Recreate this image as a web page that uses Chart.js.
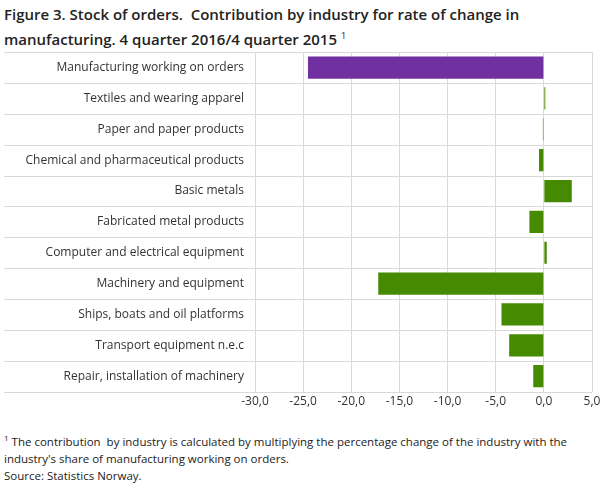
<!DOCTYPE html>
<html><head><meta charset="utf-8">
<script src="https://cdn.jsdelivr.net/npm/chart.js@4/dist/chart.umd.min.js"></script>
<style>
body{margin:0;background:#fff;font-family:"Open Sans",sans-serif;color:#222}
#title{position:absolute;left:4px;top:4px;font-size:15px;line-height:21px;font-weight:600;color:#222}
#title sup{font-size:9px;font-weight:400}
#wrap{position:absolute;left:0;top:42px;width:609px;height:370px}
#notes{position:absolute;left:4px;top:429px;font-size:11.5px;line-height:17px;color:#222;width:600px}
#notes sup{font-size:8px}
</style></head><body>
<div id="title">Figure 3. Stock of orders.&nbsp; Contribution by industry for rate of change in<br>manufacturing. 4 quarter 2016/4 quarter 2015 <sup>1</sup></div>
<div id="wrap"><canvas id="c" width="609" height="370"></canvas></div>
<div id="notes"><sup>1</sup> The contribution&nbsp; by industry is calculated by multiplying the percentage change of the industry with the industry's share of manufacturing working on orders.<br>Source: Statistics Norway.</div>
<script>
const categories = ['Manufacturing working on orders','Textiles and wearing apparel','Paper and paper products','Chemical and pharmaceutical products','Basic metals','Fabricated metal products','Computer and electrical equipment','Machinery and equipment','Ships, boats and oil platforms','Transport equipment n.e.c','Repair, installation of machinery'];
const values = [-24.5, 0.15, -0.1, -0.5, 2.9, -1.5, 0.3, -17.2, -4.4, -3.6, -1.1];
const colors = values.map((v, i) => i === 0 ? '#7030a0' : '#458a00');

const rowLines = {
  id: 'rowLines',
  beforeDatasetsDraw(chart) {
    const y = chart.scales.y, x = chart.scales.x, ctx = chart.ctx;
    ctx.save();
    ctx.strokeStyle = '#d9d9d9';
    ctx.lineWidth = 1;
    const half = (y.getPixelForValue(1) - y.getPixelForValue(0)) / 2;
    for (let i = 0; i <= categories.length; i++) {
      const py = Math.round(y.getPixelForValue(i) - half) + 0.5;
      ctx.beginPath(); ctx.moveTo(4, py); ctx.lineTo(x.right, py); ctx.stroke();
    }
    ctx.restore();
  }
};

new Chart(document.getElementById('c'), {
  type: 'bar',
  data: { labels: categories, datasets: [{ data: values, backgroundColor: colors, barPercentage: 0.72, categoryPercentage: 1 }] },
  options: {
    indexAxis: 'y', responsive: false, animation: false,
    layout: { padding: { left: 0, right: 17, top: 6, bottom: 0 } },
    plugins: { legend: { display: false }, tooltip: { enabled: false } },
    scales: {
      x: { min: -30, max: 5, ticks: { stepSize: 5, color: '#333', font: { family: 'Open Sans', size: 12 }, callback: v => v.toFixed(1).replace('.', ',') },
           grid: { color: '#d9d9d9', drawTicks: false }, border: { display: false } },
      y: { ticks: { color: '#333', font: { family: 'Open Sans', size: 12 }, padding: 3 },
           grid: { display: false }, border: { display: false }, afterFit(s) { s.width = 255; } }
    }
  },
  plugins: [rowLines]
});
</script></body></html>
